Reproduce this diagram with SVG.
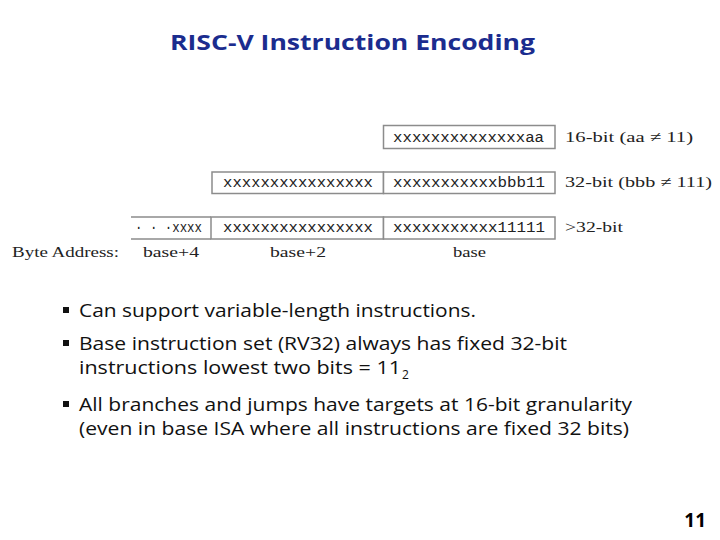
<svg xmlns="http://www.w3.org/2000/svg" width="720" height="540" viewBox="0 0 720 540">
  <style>
    .title { font-family: "Open Sans", "Liberation Sans", sans-serif; font-weight: bold; font-size: 22px; fill: #1b2c8e; }
    .cell { fill: #ffffff; stroke: #8c8c8c; stroke-width: 1.5; }
    .open { fill: none; stroke: #8c8c8c; stroke-width: 1.5; }
    .tt { font-family: "Liberation Mono", "DejaVu Sans Mono", monospace; font-size: 14px; fill: #222; }
    .serif { font-family: "Liberation Serif", "DejaVu Serif", serif; font-size: 15px; fill: #222; }
    .body { font-family: "Open Sans", "Liberation Sans", sans-serif; font-size: 18px; fill: #111; }
    .sub { font-family: "Open Sans", "Liberation Sans", sans-serif; font-size: 12px; fill: #111; }
    .bullet { fill: #111; }
    .pagenum { font-family: "Open Sans", "Liberation Sans", sans-serif; font-weight: bold; font-size: 19px; fill: #000; }
  </style>
  <rect width="720" height="540" fill="#ffffff"/>

  <g id="title">
    <text class="title" x="170" y="50" textLength="365" lengthAdjust="spacingAndGlyphs">RISC-V Instruction Encoding</text>
  </g>

  <g id="row16">
    <g id="row16-base">
      <rect class="cell" x="383.5" y="125.5" width="171.5" height="23"/>
      <text class="tt" x="393" y="142" textLength="151" lengthAdjust="spacingAndGlyphs">xxxxxxxxxxxxxxaa</text>
    </g>
    <g id="row16-label">
      <text class="serif" x="565" y="142" textLength="128" lengthAdjust="spacingAndGlyphs">16-bit (aa ≠ 11)</text>
    </g>
  </g>

  <g id="row32">
    <g id="row32-base2">
      <rect class="cell" x="212" y="172" width="171.5" height="21.5"/>
      <text class="tt" x="223" y="187" textLength="150" lengthAdjust="spacingAndGlyphs">xxxxxxxxxxxxxxxx</text>
    </g>
    <g id="row32-base">
      <rect class="cell" x="383.5" y="172" width="171.5" height="21.5"/>
      <text class="tt" x="393" y="187" textLength="152" lengthAdjust="spacingAndGlyphs">xxxxxxxxxxxbbb11</text>
    </g>
    <g id="row32-label">
      <text class="serif" x="565" y="187" textLength="147" lengthAdjust="spacingAndGlyphs">32-bit (bbb ≠ 111)</text>
    </g>
  </g>

  <g id="row48">
    <g id="row48-base4">
      <path class="open" d="M131,217 H211 M131,239 H211"/>
      <text class="tt" x="135" y="232" textLength="67" lengthAdjust="spacingAndGlyphs">· · ·xxxx</text>
    </g>
    <g id="row48-base2">
      <rect class="cell" x="211" y="217" width="172.5" height="22"/>
      <text class="tt" x="223" y="232" textLength="150" lengthAdjust="spacingAndGlyphs">xxxxxxxxxxxxxxxx</text>
    </g>
    <g id="row48-base">
      <rect class="cell" x="383.5" y="217" width="171.5" height="22"/>
      <text class="tt" x="393" y="232" textLength="152" lengthAdjust="spacingAndGlyphs">xxxxxxxxxxx11111</text>
    </g>
    <g id="row48-label">
      <text class="serif" x="565" y="232" textLength="58" lengthAdjust="spacingAndGlyphs">&gt;32-bit</text>
    </g>
  </g>

  <g id="addresses">
    <text class="serif" x="12" y="257" textLength="107" lengthAdjust="spacingAndGlyphs">Byte Address:</text>
    <text class="serif" x="143" y="257" textLength="56" lengthAdjust="spacingAndGlyphs">base+4</text>
    <text class="serif" x="270" y="257" textLength="56" lengthAdjust="spacingAndGlyphs">base+2</text>
    <text class="serif" x="453" y="257" textLength="33" lengthAdjust="spacingAndGlyphs">base</text>
  </g>

  <g id="bullets">
    <rect class="bullet" x="63" y="307" width="6" height="6"/>
    <text class="body" x="79" y="317" textLength="397" lengthAdjust="spacingAndGlyphs">Can support variable-length instructions.</text>

    <rect class="bullet" x="63" y="340" width="6" height="6"/>
    <text class="body" x="79" y="350" textLength="488" lengthAdjust="spacingAndGlyphs">Base instruction set (RV32) always has fixed 32-bit</text>
    <text class="body" x="79" y="374" textLength="322" lengthAdjust="spacingAndGlyphs">instructions lowest two bits = 11</text>
    <text class="sub" x="402" y="379">2</text>

    <rect class="bullet" x="63" y="401" width="6" height="6"/>
    <text class="body" x="79" y="411" textLength="553" lengthAdjust="spacingAndGlyphs">All branches and jumps have targets at 16-bit granularity</text>
    <text class="body" x="79" y="435" textLength="550" lengthAdjust="spacingAndGlyphs">(even in base ISA where all instructions are fixed 32 bits)</text>
  </g>

  <g id="page-number">
    <text class="pagenum" x="706" y="527" text-anchor="end">11</text>
  </g>
</svg>
